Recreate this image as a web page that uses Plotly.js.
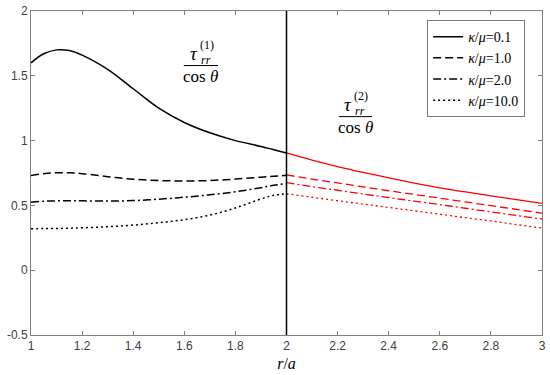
<!DOCTYPE html>
<html>
<head>
<meta charset="utf-8">
<script src="https://cdn.plot.ly/plotly-3.0.1.min.js"></script>
<style>html,body{margin:0;padding:0;background:#fff;}#chart{width:550px;height:375px;}</style>
</head>
<body>
<div id="chart"></div>
<script>
// Region 1 (r/a from 1 to 2), black curves
const xLeft = [1.0, 1.05, 1.1, 1.15, 1.2, 1.3, 1.4, 1.5, 1.6, 1.7, 1.8, 1.9, 1.95, 2.0];
const k01Left  = [1.60, 1.67, 1.70, 1.695, 1.66, 1.55, 1.40, 1.25, 1.14, 1.06, 1.00, 0.955, 0.93, 0.905];
const k1Left   = [0.73, 0.745, 0.752, 0.752, 0.745, 0.722, 0.702, 0.692, 0.688, 0.692, 0.703, 0.718, 0.725, 0.732];
const k2Left   = [0.525, 0.532, 0.535, 0.535, 0.535, 0.533, 0.537, 0.548, 0.563, 0.582, 0.605, 0.637, 0.655, 0.67];
const k10Left  = [0.32, 0.321, 0.322, 0.324, 0.327, 0.335, 0.348, 0.366, 0.39, 0.425, 0.48, 0.55, 0.578, 0.59];

// Region 2 (r/a from 2 to 3), red curves
const xRight = [2.0, 2.1, 2.2, 2.3, 2.4, 2.5, 2.6, 2.7, 2.8, 2.9, 3.0];
const k01Right = [0.905, 0.85, 0.80, 0.755, 0.713, 0.672, 0.636, 0.604, 0.574, 0.544, 0.515];
const k1Right  = [0.735, 0.703, 0.673, 0.643, 0.613, 0.585, 0.556, 0.527, 0.498, 0.469, 0.44];
const k2Right  = [0.675, 0.645, 0.617, 0.588, 0.56, 0.533, 0.506, 0.478, 0.45, 0.422, 0.395];
const k10Right = [0.59, 0.563, 0.536, 0.51, 0.484, 0.458, 0.432, 0.405, 0.38, 0.352, 0.325];

const legendNames = ['<i>κ</i>/<i>μ</i>=0.1', '<i>κ</i>/<i>μ</i>=1.0', '<i>κ</i>/<i>μ</i>=2.0', '<i>κ</i>/<i>μ</i>=10.0'];
const dashes = ['solid', '8px,4px', '8px,3px,2px,3px', '2px,3px'];

const xTickVals = [1, 1.2, 1.4, 1.6, 1.8, 2, 2.2, 2.4, 2.6, 2.8, 3];
const xTickText = ['1', '1.2', '1.4', '1.6', '1.8', '2', '2.2', '2.4', '2.6', '2.8', '3'];
const yTickVals = [-0.5, 0, 0.5, 1, 1.5, 2];
const yTickText = ['-0.5', '0', '0.5', '1', '1.5', '2'];

const leftSeries = [k01Left, k1Left, k2Left, k10Left];
const rightSeries = [k01Right, k1Right, k2Right, k10Right];

const traces = [];
leftSeries.forEach((ys, i) => {
  traces.push({x: xLeft, y: ys, mode: 'lines', name: legendNames[i], line: {color: '#000', width: 1.5, dash: dashes[i], shape: 'spline'}, hoverinfo: 'skip'});
});
rightSeries.forEach((ys, i) => {
  traces.push({x: xRight, y: ys, mode: 'lines', showlegend: false, line: {color: '#ff0000', width: 1.3, dash: dashes[i], shape: 'spline'}, hoverinfo: 'skip'});
});

const serif = 'Liberation Serif';
const sans = 'Liberation Sans';

function fracAnnots(xc, yc, idx) {
  return [
    {x: xc, y: yc, xref: 'x', yref: 'y', text: '<i>τ</i>', showarrow: false, font: {family: serif, size: 19, color: '#000'}, xshift: -7, yshift: 12},
    {x: xc, y: yc, xref: 'x', yref: 'y', text: '(' + idx + ')', showarrow: false, font: {family: serif, size: 12, color: '#000'}, xshift: 6, yshift: 21},
    {x: xc, y: yc, xref: 'x', yref: 'y', text: '<i>rr</i>', showarrow: false, font: {family: serif, size: 12, color: '#000'}, xshift: 5, yshift: 6},
    {x: xc, y: yc, xref: 'x', yref: 'y', text: 'cos <i>θ</i>', showarrow: false, font: {family: serif, size: 17, color: '#000'}, yshift: -11}
  ];
}

const layout = {
  width: 550, height: 375,
  margin: {l: 31, r: 8, t: 11, b: 40},
  paper_bgcolor: '#fff', plot_bgcolor: '#fff',
  showlegend: true,
  legend: {x: 0.967, xanchor: 'right', y: 0.972, yanchor: 'top', bgcolor: '#fff', bordercolor: '#7a7a7a', borderwidth: 1,
           font: {family: serif, size: 14, color: '#000'}, tracegroupgap: 0},
  xaxis: {range: [1, 3], tickvals: xTickVals, ticktext: xTickText, ticks: 'inside', ticklen: 4, tickcolor: '#808080',
          showline: true, linecolor: '#808080', linewidth: 1, mirror: 'ticks', showgrid: false, zeroline: false,
          tickfont: {family: sans, size: 12, color: '#404040'},
          title: {text: '<i>r</i>/<i>a</i>', font: {family: serif, size: 16, color: '#000'}, standoff: 5}},
  yaxis: {range: [-0.5, 2], tickvals: yTickVals, ticktext: yTickText, ticks: 'inside', ticklen: 4, tickcolor: '#808080',
          showline: true, linecolor: '#808080', linewidth: 1, mirror: 'ticks', showgrid: false, zeroline: false,
          tickfont: {family: sans, size: 12, color: '#404040'}},
  shapes: [
    {type: 'line', xref: 'x', yref: 'y', x0: 2, x1: 2, y0: -0.5, y1: 2, line: {color: '#000', width: 1.5}},
    {type: 'line', xref: 'x', yref: 'y', x0: 1.598, x1: 1.732, y0: 1.579, y1: 1.579, line: {color: '#000', width: 1}},
    {type: 'line', xref: 'x', yref: 'y', x0: 2.205, x1: 2.335, y0: 1.185, y1: 1.185, line: {color: '#000', width: 1}}
  ],
  annotations: [].concat(fracAnnots(1.665, 1.579, 1), fracAnnots(2.27, 1.185, 2))
};

Plotly.newPlot('chart', traces, layout, {displayModeBar: false, staticPlot: true});
</script>
</body>
</html>
